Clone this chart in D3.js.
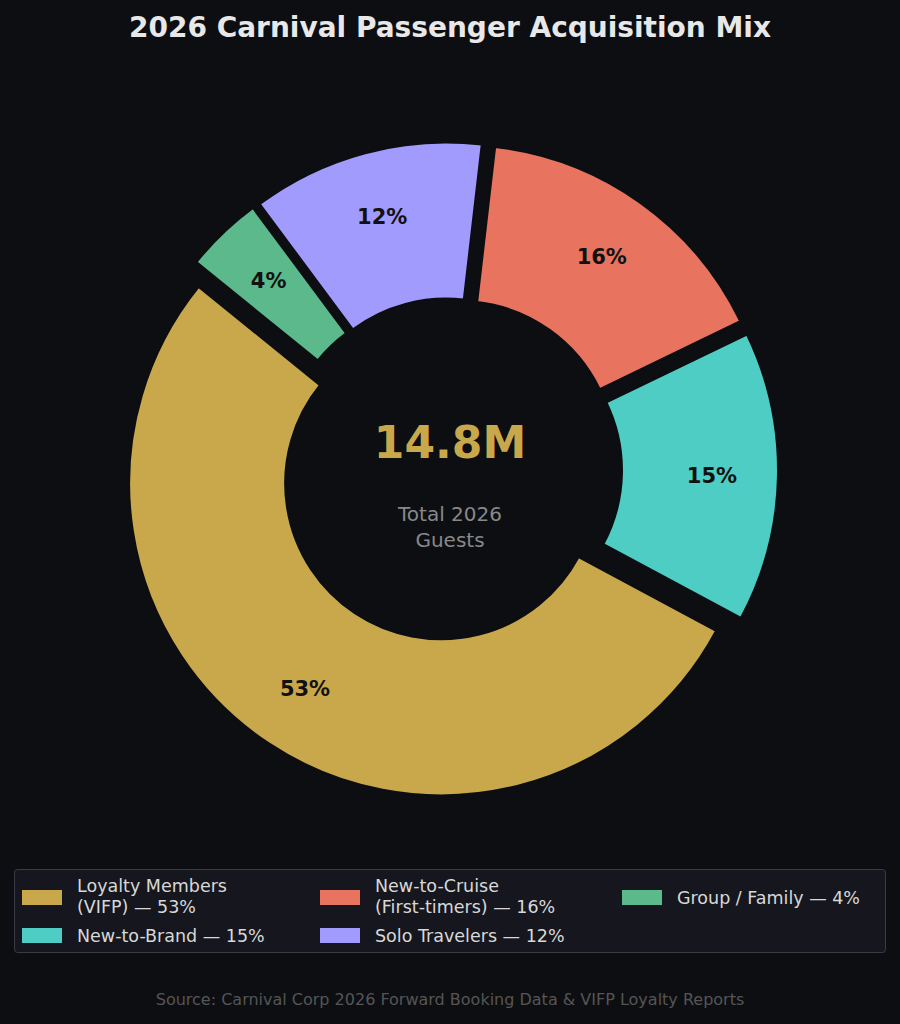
<!DOCTYPE html>
<html><head><meta charset="utf-8">
<script src="https://cdn.jsdelivr.net/npm/d3@7"></script>
<style>body{margin:0;background:#0d0e12;}svg{display:block;font-family:"DejaVu Sans",sans-serif;}</style>
</head><body>
<svg id="c" width="900" height="1024"></svg>
<script>
const categories = ["Loyalty Members (VIFP)","New-to-Brand","New-to-Cruise (First-timers)","Solo Travelers","Group / Family"];
const values = [53,15,16,12,4];
const colors = ["#c9a84c","#4ecdc4","#e8735f","#a29bfe","#5bb98c"];
const legendLines = [["Loyalty Members","(VIFP) — 53%"],["New-to-Brand — 15%"],["New-to-Cruise","(First-timers) — 16%"],["Solo Travelers — 12%"],["Group / Family — 4%"]];

const svg = d3.select("#c");
svg.append("rect").attr("width",900).attr("height",1024).attr("fill","#0d0e12");
svg.append("text").attr("x",450).attr("y",37).attr("text-anchor","middle").attr("fill","#e8e8e8")
  .attr("font-size",28).attr("font-weight","bold").text("2026 Carnival Passenger Acquisition Mix");

const cx=450, cy=470, R=312, r=156, off=16;
const start = 118.2*Math.PI/180;
// order clockwise: gold, teal, red, purple, green ... gold goes counterclockwise in matplotlib; build clockwise sequence
const order=[0,1,2,3,4];
const pie = d3.pie().sort(null).value(d=>d.v).startAngle(start-2*Math.PI).endAngle(start);
// counterclockwise from start: gold occupies [start-53%..start]? compute manually
const total=d3.sum(values);
let a = start; // gold ends? gold spans clockwise from start
const arcsData=[];
// clockwise from 118.2deg: gold, green, purple, red, teal
const cw=[0,4,3,2,1];
cw.forEach(i=>{const span=values[i]/total*2*Math.PI; arcsData.push({i,startAngle:a,endAngle:a+span}); a+=span;});
const arc=d3.arc().innerRadius(r).outerRadius(R);
const g=svg.append("g").attr("transform",`translate(${cx},${cy})`);
arcsData.forEach(d=>{
  const m=(d.startAngle+d.endAngle)/2, dx=Math.sin(m)*off, dy=-Math.cos(m)*off;
  const gg=g.append("g").attr("transform",`translate(${dx},${dy})`);
  gg.append("path").attr("d",arc(d)).attr("fill",colors[d.i]).attr("stroke","#0d0e12").attr("stroke-width",2);
  const lr=246;
  gg.append("text").attr("x",Math.sin(m)*lr).attr("y",-Math.cos(m)*lr).attr("dy","0.35em")
    .attr("text-anchor","middle").attr("font-size",21).attr("font-weight","bold").attr("fill","#111")
    .text(values[d.i]+"%");
});
g.append("text").attr("y",-12).attr("text-anchor","middle").attr("fill","#c9a84c").attr("font-size",44).attr("font-weight","bold").text("14.8M");
g.append("text").attr("y",51).attr("text-anchor","middle").attr("fill","#888").attr("font-size",20).text("Total 2026");
g.append("text").attr("y",77).attr("text-anchor","middle").attr("fill","#888").attr("font-size",20).text("Guests");

svg.append("rect").attr("x",14.5).attr("y",869.5).attr("width",871).attr("height",83).attr("rx",3)
  .attr("fill","#16171e").attr("stroke","#3a3b44");
const pos=[[22,898],[22,936],[320,898],[320,936],[622,898]];
legendLines.forEach((ls,i)=>{
  const [x,y]=pos[i];
  svg.append("rect").attr("x",x).attr("y",y-8).attr("width",40).attr("height",15).attr("fill",colors[i]);
  const t=svg.append("text").attr("fill","#d8d8d8").attr("font-size",17.5);
  if(ls.length===1) t.append("tspan").attr("x",x+55).attr("y",y+6).text(ls[0]);
  else { t.append("tspan").attr("x",x+55).attr("y",y-6).text(ls[0]); t.append("tspan").attr("x",x+55).attr("y",y+15).text(ls[1]); }
});
svg.append("text").attr("x",450).attr("y",1005).attr("text-anchor","middle").attr("fill","#555").attr("font-size",16)
  .text("Source: Carnival Corp 2026 Forward Booking Data & VIFP Loyalty Reports");
</script></body></html>
